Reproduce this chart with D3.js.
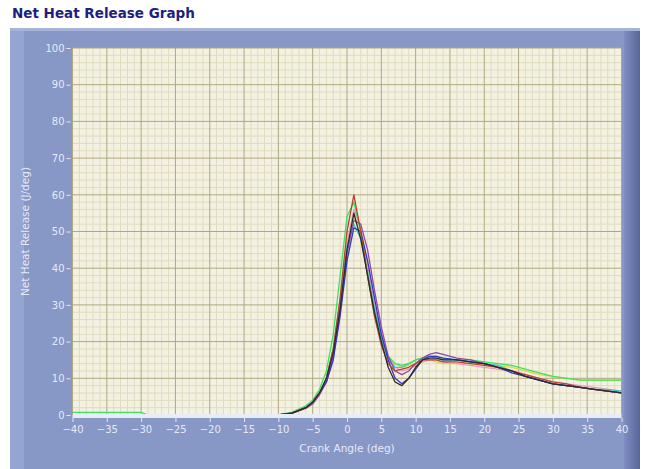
<!DOCTYPE html>
<html>
<head>
<meta charset="utf-8">
<script src="https://cdn.jsdelivr.net/npm/d3@7"></script>
<style>
  body { margin: 0; background: #fff; }
  svg text { font-family: "DejaVu Sans", sans-serif; }
</style>
</head>
<body>
<div id="chart"></div>
<script>
// **** THE DATA ****
const angles = [-40, -30, -29, -10, -8, -6, -5, -4, -3, -2, -1, 0, 1, 2, 3, 4, 5, 6, 7, 8, 9, 10,
                11, 12, 13, 14, 16, 18, 20, 22, 24, 26, 28, 30, 32, 34, 36, 38, 40]

const black  = [0, 0, 0, 0, 0.5, 2, 3.5, 6, 10, 17, 29, 45, 55, 48, 38, 28, 20, 13, 9, 8, 10, 13, 15, 15.5, 15.5, 15, 15, 14.5, 14, 13, 12, 10.5, 9.5, 8.5, 8, 7.5, 7, 6.5, 6]
const red    = [0, 0, 0, 0, 0.5, 2, 3.5, 6, 10, 18, 32, 50, 60, 50, 38, 27, 19, 14, 12, 12.5, 13, 14, 15, 15, 15, 14.5, 14.5, 14, 13.5, 13, 12, 11, 10, 9, 8.5, 7.5, 7, 6.5, 6]
const green  = [0.7, 0.7, 0, 0, 0.8, 2.5, 4, 7, 12, 22, 38, 54, 58, 50, 38, 27, 20, 16, 14, 13.5, 14, 15, 15.5, 16, 16, 15.5, 15, 15, 14.5, 14, 13.5, 12.5, 11.5, 10.5, 10, 9.5, 9.5, 9.5, 9.5]
const blue   = [0, 0, 0, 0, 0.5, 2, 3.5, 6, 9, 15, 27, 42, 51, 50, 42, 32, 22, 15, 10, 8.5, 10, 12.5, 15, 16, 16, 15.5, 15, 14.5, 14, 13, 11.5, 10.5, 9.5, 8.5, 8, 7.5, 7, 6.5, 6]
const purple = [0, 0, 0, 0, 0.5, 1.8, 3, 5.5, 9, 16, 28, 44, 53, 52, 45, 34, 24, 16, 12, 11, 12, 14, 15.5, 16.5, 17, 16.5, 15.5, 15, 14, 13, 12, 10.5, 9.5, 8.5, 8, 7.5, 7, 6.5, 6]
const cyan   = [0, 0, 0, 0, 0.5, 2, 3.5, 6, 10, 18, 31, 46, 52, 48, 39, 29, 21, 15, 13, 13, 14, 15, 15.5, 16, 15.5, 15, 15, 14.5, 14, 13.5, 12, 10.5, 9.5, 8.5, 8, 7.5, 7, 7, 6.5]
const yellow = [0, 0, 0, 0, 0.5, 2, 3.5, 6, 10, 18, 30, 45, 54, 49, 40, 30, 21, 16, 14, 13, 13.5, 14, 14.5, 15, 14.5, 14, 14, 14, 14, 13.5, 13, 12, 11, 10.5, 10, 9.5, 9.5, 9.5, 9.5]
const pink   = [0, 0, 0, 0, 0.5, 2, 3.5, 6, 10, 18, 31, 47, 56, 51, 41, 30, 22, 16, 13, 12, 12.5, 13.5, 14.5, 15, 15, 14.5, 14, 13.5, 13, 12.5, 12, 11, 10, 9, 8.5, 8, 7.5, 7, 6.5]

const xTicks = d3.range(-40, 41, 5)
const yTicks = d3.range(0, 101, 10)

// drawing order, last one on top
const series = [
  {values: yellow, color: "#d9d84a"},
  {values: pink,   color: "#e79ac0"},
  {values: cyan,   color: "#3cc8c8"},
  {values: green,  color: "#3ee060"},
  {values: purple, color: "#8a4aa8"},
  {values: blue,   color: "#3636c4"},
  {values: red,    color: "#b5452c"},
  {values: black,  color: "#2b2b2b"}
]

// **** THE SETUP ****
const W = 646, H = 469
const plot = {left: 72.5, right: 621.5, top: 48, bottom: 415}

const xScale = d3.scaleLinear().domain([-40, 40]).range([plot.left, plot.right])
const yScale = d3.scaleLinear().domain([0, 100]).range([plot.bottom, plot.top])

const svg = d3.select("#chart").append("svg")
    .attr("width", W)
    .attr("height", H)

// title
svg.append("text")
    .attr("x", 12).attr("y", 18)
    .attr("font-size", 13.5)
    .attr("font-weight", "bold")
    .attr("fill", "#1e1e82")
    .text("Net Heat Release Graph")

// panel
const defs = svg.append("defs")
const grad = defs.append("linearGradient").attr("id", "rightband").attr("x1", 0).attr("x2", 1)
grad.append("stop").attr("offset", 0).attr("stop-color", "#7e8ec0")
grad.append("stop").attr("offset", 1).attr("stop-color", "#56669a")

svg.append("rect").attr("x", 10).attr("y", 28).attr("width", 630).attr("height", H - 28).attr("fill", "#8797c6")
svg.append("rect").attr("x", 10).attr("y", 28).attr("width", 14).attr("height", H - 28).attr("fill", "#95a5d2")
svg.append("rect").attr("x", 624).attr("y", 28).attr("width", 16).attr("height", H - 28).attr("fill", "url(#rightband)")
svg.append("rect").attr("x", 10).attr("y", 28).attr("width", 630).attr("height", 3).attr("fill", "#a7b4da")

// plot background
svg.append("rect")
    .attr("x", plot.left).attr("y", plot.top)
    .attr("width", plot.right - plot.left).attr("height", plot.bottom - plot.top)
    .attr("fill", "#f3f1e2")

// --> GRID
const grid = svg.append("g")
grid.selectAll(".vminor").data(d3.range(-40, 41, 1).filter(d => d % 5 !== 0))
  .enter().append("line")
    .attr("x1", d => xScale(d)).attr("x2", d => xScale(d))
    .attr("y1", plot.top).attr("y2", plot.bottom)
    .attr("stroke", "#e0dcbe").attr("stroke-width", 1)
grid.selectAll(".hminor").data(d3.range(0, 101, 2).filter(d => d % 10 !== 0))
  .enter().append("line")
    .attr("x1", plot.left).attr("x2", plot.right)
    .attr("y1", d => yScale(d)).attr("y2", d => yScale(d))
    .attr("stroke", "#e0dcbe").attr("stroke-width", 1)
grid.selectAll(".vmajor").data(xTicks)
  .enter().append("line")
    .attr("x1", d => xScale(d)).attr("x2", d => xScale(d))
    .attr("y1", plot.top).attr("y2", plot.bottom)
    .attr("stroke", "#b0a87c").attr("stroke-width", 1)
grid.selectAll(".hmajor").data(yTicks.filter(d => d > 0))
  .enter().append("line")
    .attr("x1", plot.left).attr("x2", plot.right)
    .attr("y1", d => yScale(d)).attr("y2", d => yScale(d))
    .attr("stroke", "#b0a87c").attr("stroke-width", 1)

// --> AXES
const xAxis = svg.append("g")
    .attr("transform", "translate(0," + (plot.bottom + 3) + ")")
    .call(d3.axisBottom(xScale).tickValues(xTicks).tickSize(4).tickPadding(4))
const yAxis = svg.append("g")
    .attr("transform", "translate(" + (plot.left - 2) + ",0)")
    .call(d3.axisLeft(yScale).tickValues(yTicks).tickSize(4).tickPadding(2))

;[xAxis, yAxis].forEach(ax => {
  ax.select(".domain").remove()
  ax.selectAll(".tick line").attr("stroke", "#e4e8f5")
  ax.selectAll(".tick text").attr("fill", "#e6eaf7").attr("font-size", 10)
    .attr("font-family", "'DejaVu Sans', sans-serif")
})

svg.append("text")
    .attr("x", (plot.left + plot.right) / 2).attr("y", 452)
    .attr("text-anchor", "middle")
    .attr("font-size", 10.5).attr("fill", "#e6eaf7")
    .text("Crank Angle (deg)")
svg.append("text")
    .attr("transform", "translate(29," + ((plot.top + plot.bottom) / 2) + ") rotate(-90)")
    .attr("text-anchor", "middle")
    .attr("font-size", 10.5).attr("fill", "#e6eaf7")
    .text("Net Heat Release (J/deg)")

// --> LINES
const line = d3.line()
    .x((d, i) => xScale(angles[i]))
    .y(d => yScale(d))

svg.append("defs").append("clipPath").attr("id", "clip")
  .append("rect").attr("x", plot.left).attr("y", plot.top)
    .attr("width", plot.right - plot.left).attr("height", plot.bottom - plot.top)

svg.append("g").attr("clip-path", "url(#clip)")
  .selectAll(".series").data(series)
  .enter().append("path")
    .attr("class", "series")
    .attr("d", d => line(d.values))
    .attr("fill", "none")
    .attr("stroke", d => d.color)
    .attr("stroke-width", 1.3)
    .attr("stroke-linejoin", "round")

// light strip along the bottom edge, hides the zero baseline of the traces
svg.append("rect")
    .attr("x", plot.left).attr("y", plot.bottom - 1).attr("width", plot.right - plot.left).attr("height", 4)
    .attr("fill", "#e8ecf6")
</script>
</body>
</html>
